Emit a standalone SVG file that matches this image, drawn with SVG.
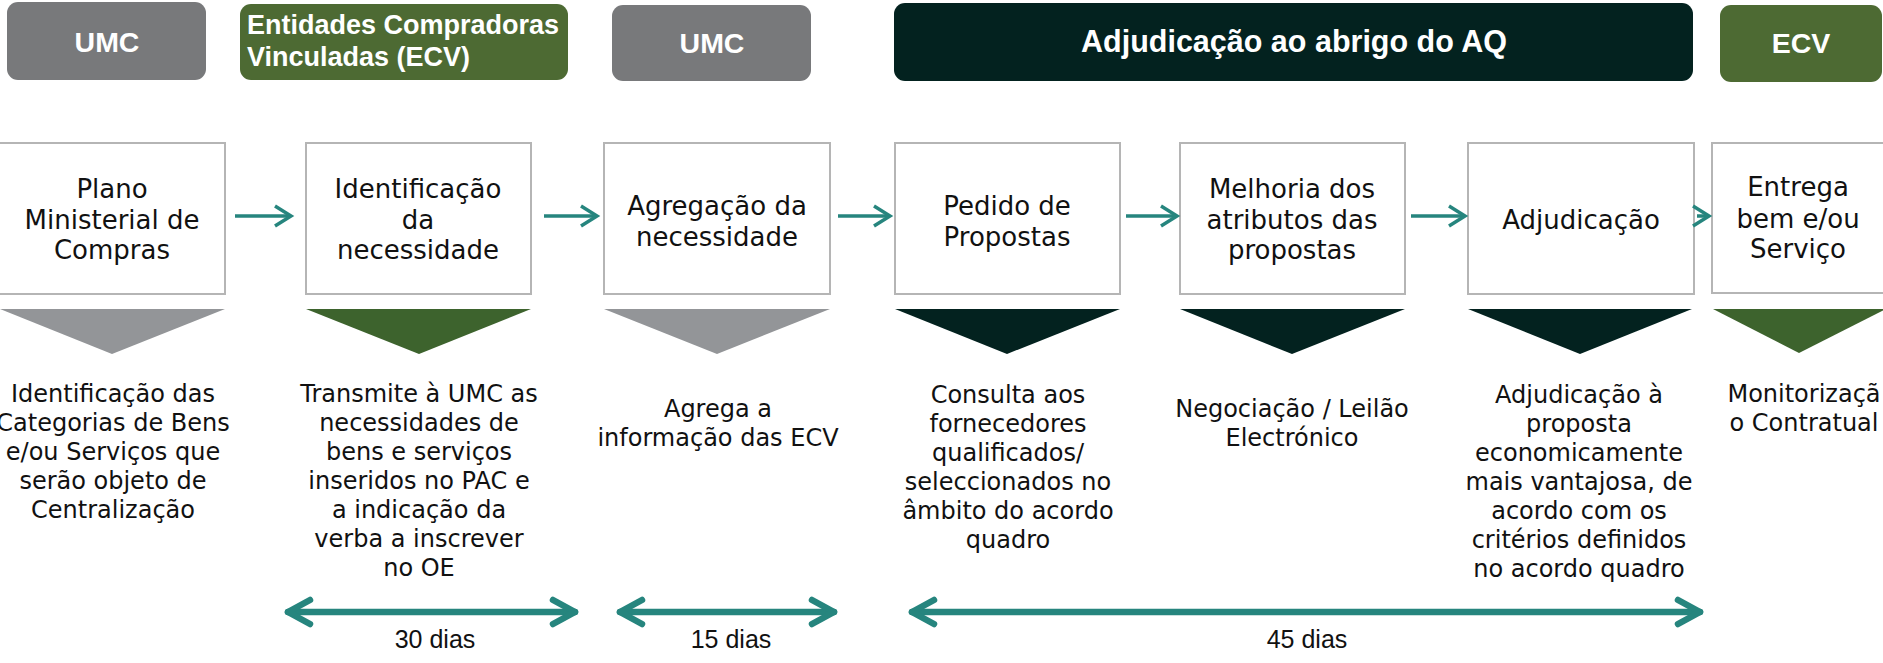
<svg xmlns="http://www.w3.org/2000/svg" width="1883" height="663" viewBox="0 0 1883 663">
<style>
.hdr { font-family: "Liberation Sans", Arial, sans-serif; font-weight: bold; font-size: 27px; fill: #ffffff; }
.big { font-size: 28.5px; }
.mid { text-anchor: middle; }
.gray { fill: #78797b; }
.green { fill: #4d6a33; }
.dark { fill: #03221f; }
.box { fill: #ffffff; stroke: #b5b5b5; stroke-width: 2; }
.bt { font-family: "DejaVu Sans", "Liberation Sans", sans-serif; font-size: 26px; fill: #111111; text-anchor: middle; }
.dt { font-family: "DejaVu Sans", "Liberation Sans", sans-serif; font-size: 24px; fill: #111111; text-anchor: middle; }
.lbl { font-family: "Liberation Sans", Arial, sans-serif; font-size: 25px; fill: #111111; text-anchor: middle; }
.tri-gray { fill: #939598; }
.tri-green { fill: #3d632d; }
.tri-dark { fill: #03221f; }
.step { stroke: #26857e; stroke-width: 3.5; fill: none; }
.span { stroke: #26857e; stroke-width: 6.5; fill: none; stroke-linecap: round; }
</style>
<defs>
<marker id="ah" markerUnits="userSpaceOnUse" viewBox="-22 -14 26 28" markerWidth="26" markerHeight="28" refX="0" refY="0" orient="auto" overflow="visible">
<path d="M-16,-10 L0,0 L-16,10" fill="none" stroke="#26857e" stroke-width="3.5"/>
</marker>
<marker id="big" markerUnits="userSpaceOnUse" viewBox="-30 -18 36 36" markerWidth="36" markerHeight="36" refX="0" refY="0" orient="auto-start-reverse" overflow="visible">
<path d="M-22,-12 L0,0 L-22,12" fill="none" stroke="#26857e" stroke-width="6.5" stroke-linecap="round" stroke-linejoin="round"/>
</marker>
</defs>

<g id="hdr-umc1">
<rect class="gray" x="7" y="2" width="199" height="78" rx="11"/>
<text class="hdr big mid" x="107" y="52">UMC</text>
</g>
<g id="hdr-ecv1">
<rect class="green" x="240" y="4" width="328" height="76" rx="11"/>
<text class="hdr" x="247" y="34">Entidades Compradoras</text>
<text class="hdr" x="247" y="66">Vinculadas (ECV)</text>
</g>
<g id="hdr-umc2">
<rect class="gray" x="612" y="5" width="199" height="76" rx="11"/>
<text class="hdr big mid" x="712" y="53">UMC</text>
</g>
<g id="hdr-aq">
<rect class="dark" x="894" y="3" width="799" height="78" rx="11"/>
<text class="hdr mid" x="1294" y="52" style="font-size:30.5px">Adjudicação ao abrigo do AQ</text>
</g>
<g id="hdr-ecv2">
<rect class="green" x="1720" y="5" width="162" height="77" rx="11"/>
<text class="hdr big mid" x="1801" y="53">ECV</text>
</g>

<g id="step1">
<rect class="box" x="-1" y="143" width="226" height="151"/>
<text class="bt" x="112" y="198">Plano</text>
<text class="bt" x="112" y="229">Ministerial de</text>
<text class="bt" x="112" y="259">Compras</text>
<polygon class="tri-gray" points="0,309 225,309 112,354"/>
<text class="dt" x="113" y="402">Identificação das</text>
<text class="dt" x="113" y="431">Categorias de Bens</text>
<text class="dt" x="113" y="460">e/ou Serviços que</text>
<text class="dt" x="113" y="489">serão objeto de</text>
<text class="dt" x="113" y="518">Centralização</text>
</g>

<g id="step2">
<rect class="box" x="306" y="143" width="225" height="151"/>
<text class="bt" x="418" y="198">Identificação</text>
<text class="bt" x="418" y="229">da</text>
<text class="bt" x="418" y="259">necessidade</text>
<polygon class="tri-green" points="306,309 531,309 419,354"/>
<text class="dt" x="419" y="402">Transmite à UMC as</text>
<text class="dt" x="419" y="431">necessidades de</text>
<text class="dt" x="419" y="460">bens e serviços</text>
<text class="dt" x="419" y="489">inseridos no PAC e</text>
<text class="dt" x="419" y="518">a indicação da</text>
<text class="dt" x="419" y="547">verba a inscrever</text>
<text class="dt" x="419" y="576">no OE</text>
</g>

<g id="step3">
<rect class="box" x="604" y="143" width="226" height="151"/>
<text class="bt" x="717" y="215">Agregação da</text>
<text class="bt" x="717" y="246">necessidade</text>
<polygon class="tri-gray" points="604,309 830,309 717,354"/>
<text class="dt" x="718" y="417">Agrega a</text>
<text class="dt" x="718" y="446">informação das ECV</text>
</g>

<g id="step4">
<rect class="box" x="895" y="143" width="225" height="151"/>
<text class="bt" x="1007" y="215">Pedido de</text>
<text class="bt" x="1007" y="246">Propostas</text>
<polygon class="tri-dark" points="895,309 1120,309 1007,354"/>
<text class="dt" x="1008" y="403">Consulta aos</text>
<text class="dt" x="1008" y="432">fornecedores</text>
<text class="dt" x="1008" y="461">qualificados/</text>
<text class="dt" x="1008" y="490">seleccionados no</text>
<text class="dt" x="1008" y="519">âmbito do acordo</text>
<text class="dt" x="1008" y="548">quadro</text>
</g>

<g id="step5">
<rect class="box" x="1180" y="143" width="225" height="151"/>
<text class="bt" x="1292" y="198">Melhoria dos</text>
<text class="bt" x="1292" y="229">atributos das</text>
<text class="bt" x="1292" y="259">propostas</text>
<polygon class="tri-dark" points="1180,309 1405,309 1292,354"/>
<text class="dt" x="1292" y="417">Negociação / Leilão</text>
<text class="dt" x="1292" y="446">Electrónico</text>
</g>

<g id="step6">
<rect class="box" x="1468" y="143" width="226" height="151"/>
<text class="bt" x="1581" y="229">Adjudicação</text>
<polygon class="tri-dark" points="1468,309 1692,309 1580,354"/>
<text class="dt" x="1579" y="403">Adjudicação à</text>
<text class="dt" x="1579" y="432">proposta</text>
<text class="dt" x="1579" y="461">economicamente</text>
<text class="dt" x="1579" y="490">mais vantajosa, de</text>
<text class="dt" x="1579" y="519">acordo com os</text>
<text class="dt" x="1579" y="548">critérios definidos</text>
<text class="dt" x="1579" y="577">no acordo quadro</text>
</g>

<g id="step7">
<rect class="box" x="1712" y="143" width="180" height="150"/>
<text class="bt" x="1798" y="196">Entrega</text>
<text class="bt" x="1798" y="228">bem e/ou</text>
<text class="bt" x="1798" y="258">Serviço</text>
<polygon class="tri-green" points="1713,309 1886,309 1799,353"/>
<text class="dt" x="1804" y="402">Monitorizaçã</text>
<text class="dt" x="1804" y="431">o Contratual</text>
</g>

<g id="connectors">
<line class="step" x1="235" y1="216" x2="291" y2="216" marker-end="url(#ah)"/>
<line class="step" x1="544" y1="216" x2="597" y2="216" marker-end="url(#ah)"/>
<line class="step" x1="838" y1="216" x2="890" y2="216" marker-end="url(#ah)"/>
<line class="step" x1="1126" y1="216" x2="1177" y2="216" marker-end="url(#ah)"/>
<line class="step" x1="1411" y1="216" x2="1465" y2="216" marker-end="url(#ah)"/>
<line class="step" x1="1697" y1="216" x2="1709" y2="216" marker-end="url(#ah)"/>
<line class="span" x1="288" y1="612" x2="575" y2="612" marker-start="url(#big)" marker-end="url(#big)"/>
<line class="span" x1="620" y1="612" x2="834" y2="612" marker-start="url(#big)" marker-end="url(#big)"/>
<line class="span" x1="912" y1="612" x2="1700" y2="612" marker-start="url(#big)" marker-end="url(#big)"/>
</g>

<g id="durations">
<text class="lbl" x="435" y="648">30 dias</text>
<text class="lbl" x="731" y="648">15 dias</text>
<text class="lbl" x="1307" y="648">45 dias</text>
</g>
</svg>
